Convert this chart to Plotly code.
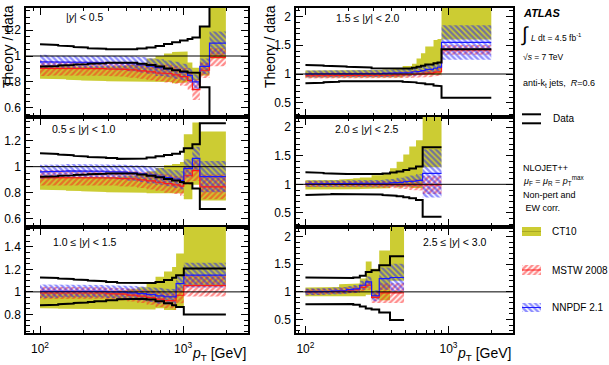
import plotly.graph_objects as go

W, H = 609, 365
FONT = "Liberation Sans, Arial, Helvetica, sans-serif"
YELLOW = "#cccc33"
RED = "#ff1a1a"
BLUE = "#1a1aff"

# ---------------- data: theory / data ratios, per rapidity bin ----------------
# |y| < 0.5
Y05_EDGES = [100, 116, 134, 152, 172, 194, 216, 240, 290, 346, 408, 478, 556, 642, 736, 838, 952, 1076, 1162, 1310, 1530, 1992]
Y05_DATA_UP = [1.090, 1.085, 1.080, 1.075, 1.070, 1.065, 1.060, 1.056, 1.053, 1.052, 1.053, 1.058, 1.066, 1.078, 1.092, 1.106, 1.120, 1.132, 1.142, 1.227, 1.900]
Y05_DATA_DN = [0.918, 0.922, 0.926, 0.930, 0.934, 0.937, 0.940, 0.944, 0.947, 0.949, 0.947, 0.940, 0.930, 0.918, 0.904, 0.890, 0.880, 0.873, 0.870, 0.758, 0.400]
Y05_CT10 = [0.875, 0.872, 0.870, 0.868, 0.866, 0.866, 0.865, 0.864, 0.863, 0.865, 0.867, 0.875, 0.890, 0.900, 0.910, 0.910, 0.915, 0.880, 0.860, 1.040, 1.300]
Y05_CT10_ERR = [0.050, 0.050, 0.050, 0.052, 0.053, 0.055, 0.055, 0.057, 0.058, 0.060, 0.065, 0.070, 0.090, 0.100, 0.110, 0.120, 0.120, 0.070, 0.050, 0.190, 0.320]
Y05_MSTW = [0.905, 0.905, 0.903, 0.905, 0.907, 0.905, 0.905, 0.903, 0.900, 0.897, 0.893, 0.885, 0.878, 0.870, 0.865, 0.855, 0.840, 0.810, 0.740, 0.890, 0.990]
Y05_MSTW_ERR = [0.060, 0.055, 0.055, 0.055, 0.055, 0.055, 0.055, 0.055, 0.055, 0.057, 0.060, 0.060, 0.065, 0.065, 0.070, 0.070, 0.070, 0.070, 0.080, 0.060, 0.070]
Y05_NNPDF = [0.955, 0.952, 0.950, 0.952, 0.955, 0.952, 0.950, 0.950, 0.948, 0.945, 0.940, 0.932, 0.922, 0.910, 0.900, 0.890, 0.875, 0.850, 0.800, 0.920, 1.100]
Y05_NNPDF_ERR = [0.055, 0.050, 0.050, 0.050, 0.050, 0.050, 0.050, 0.050, 0.052, 0.055, 0.058, 0.060, 0.060, 0.065, 0.065, 0.065, 0.065, 0.060, 0.060, 0.060, 0.090]

# 0.5 <= |y| < 1.0
Y10_EDGES = [100, 116, 134, 152, 172, 194, 216, 240, 290, 346, 408, 478, 556, 642, 736, 838, 952, 1012, 1162, 1310, 1992]
Y10_DATA_UP = [1.103, 1.098, 1.093, 1.088, 1.083, 1.079, 1.075, 1.071, 1.066, 1.060, 1.058, 1.062, 1.070, 1.080, 1.090, 1.100, 1.115, 1.141, 1.172, 1.333]
Y10_DATA_DN = [0.923, 0.927, 0.930, 0.933, 0.936, 0.939, 0.942, 0.945, 0.948, 0.950, 0.948, 0.940, 0.930, 0.918, 0.905, 0.893, 0.882, 0.872, 0.833, 0.674]
Y10_CT10 = [0.872, 0.870, 0.868, 0.866, 0.865, 0.864, 0.863, 0.862, 0.862, 0.864, 0.866, 0.870, 0.880, 0.890, 0.900, 0.905, 0.915, 1.000, 1.100, 1.005]
Y10_CT10_ERR = [0.050, 0.050, 0.050, 0.052, 0.053, 0.054, 0.055, 0.056, 0.058, 0.060, 0.064, 0.070, 0.085, 0.100, 0.110, 0.115, 0.120, 0.250, 0.240, 0.265]
Y10_MSTW = [0.915, 0.915, 0.915, 0.917, 0.918, 0.918, 0.917, 0.915, 0.913, 0.910, 0.905, 0.898, 0.890, 0.880, 0.870, 0.860, 0.850, 0.930, 0.970, 0.845]
Y10_MSTW_ERR = [0.060, 0.058, 0.058, 0.058, 0.058, 0.058, 0.058, 0.058, 0.058, 0.060, 0.060, 0.062, 0.065, 0.065, 0.070, 0.070, 0.075, 0.070, 0.080, 0.095]
Y10_NNPDF = [0.960, 0.962, 0.965, 0.968, 0.968, 0.966, 0.965, 0.965, 0.962, 0.958, 0.952, 0.945, 0.935, 0.925, 0.915, 0.905, 0.895, 0.987, 1.064, 0.923]
Y10_NNPDF_ERR = [0.055, 0.052, 0.052, 0.052, 0.052, 0.052, 0.052, 0.053, 0.055, 0.057, 0.060, 0.062, 0.065, 0.065, 0.065, 0.068, 0.070, 0.070, 0.090, 0.120]

# 1.0 <= |y| < 1.5
Y15_EDGES = [100, 116, 134, 152, 172, 194, 216, 240, 290, 346, 408, 478, 556, 642, 736, 838, 894, 1012, 1992]
Y15_DATA_UP = [1.127, 1.123, 1.118, 1.114, 1.110, 1.105, 1.100, 1.094, 1.087, 1.080, 1.075, 1.074, 1.078, 1.088, 1.105, 1.125, 1.148, 1.207]
Y15_DATA_DN = [0.881, 0.886, 0.891, 0.896, 0.901, 0.906, 0.911, 0.918, 0.926, 0.934, 0.940, 0.940, 0.932, 0.918, 0.900, 0.882, 0.867, 0.800]
Y15_CT10 = [0.925, 0.922, 0.920, 0.918, 0.918, 0.918, 0.918, 0.920, 0.922, 0.928, 0.935, 0.945, 0.965, 0.995, 1.010, 1.030, 1.100, 1.450]
Y15_CT10_ERR = [0.070, 0.070, 0.070, 0.070, 0.070, 0.070, 0.072, 0.075, 0.078, 0.082, 0.088, 0.095, 0.120, 0.140, 0.170, 0.190, 0.240, 0.400]
Y15_MSTW = [0.990, 0.990, 0.992, 0.993, 0.993, 0.993, 0.992, 0.990, 0.985, 0.980, 0.972, 0.962, 0.950, 0.935, 0.925, 0.920, 0.970, 1.055]
Y15_MSTW_ERR = [0.055, 0.052, 0.050, 0.050, 0.050, 0.050, 0.050, 0.050, 0.052, 0.055, 0.058, 0.060, 0.065, 0.070, 0.070, 0.075, 0.070, 0.095]
Y15_NNPDF = [1.005, 1.005, 1.008, 1.010, 1.010, 1.010, 1.008, 1.005, 1.002, 0.998, 0.992, 0.985, 0.975, 0.965, 0.958, 0.955, 1.074, 1.148]
Y15_NNPDF_ERR = [0.060, 0.058, 0.056, 0.055, 0.055, 0.055, 0.055, 0.055, 0.056, 0.058, 0.060, 0.062, 0.065, 0.070, 0.070, 0.070, 0.070, 0.110]

# 1.5 <= |y| < 2.0
Y20_EDGES = [100, 116, 134, 152, 172, 194, 216, 240, 290, 346, 408, 478, 556, 598, 642, 688, 786, 838, 894, 1992]
Y20_DATA_UP = [1.157, 1.150, 1.143, 1.137, 1.131, 1.125, 1.119, 1.112, 1.100, 1.090, 1.088, 1.095, 1.110, 1.125, 1.145, 1.165, 1.185, 1.200, 1.430]
Y20_DATA_DN = [0.837, 0.848, 0.858, 0.866, 0.872, 0.876, 0.879, 0.882, 0.884, 0.882, 0.876, 0.866, 0.855, 0.845, 0.835, 0.820, 0.800, 0.790, 0.587]
Y20_CT10 = [1.000, 1.000, 0.998, 0.998, 0.998, 0.998, 1.000, 1.000, 1.005, 1.010, 1.020, 1.050, 1.080, 1.130, 1.170, 1.230, 1.290, 1.300, 2.000]
Y20_CT10_ERR = [0.060, 0.060, 0.060, 0.060, 0.060, 0.060, 0.060, 0.062, 0.065, 0.070, 0.075, 0.090, 0.100, 0.140, 0.190, 0.250, 0.300, 0.310, 0.400]
Y20_MSTW = [0.970, 0.968, 0.968, 0.967, 0.967, 0.968, 0.970, 0.972, 0.975, 0.978, 0.982, 0.988, 0.995, 1.000, 1.005, 1.015, 1.030, 1.040, 1.420]
Y20_MSTW_ERR = [0.050, 0.050, 0.050, 0.050, 0.050, 0.050, 0.050, 0.050, 0.050, 0.052, 0.055, 0.058, 0.060, 0.062, 0.065, 0.068, 0.070, 0.070, 0.085]
Y20_NNPDF = [1.000, 1.000, 0.998, 0.998, 1.000, 1.000, 1.002, 1.005, 1.008, 1.012, 1.018, 1.025, 1.035, 1.045, 1.060, 1.080, 1.100, 1.120, 1.550]
Y20_NNPDF_ERR = [0.060, 0.060, 0.060, 0.060, 0.060, 0.060, 0.060, 0.060, 0.060, 0.062, 0.065, 0.068, 0.070, 0.072, 0.075, 0.078, 0.080, 0.080, 0.300]

# 2.0 <= |y| < 2.5
Y25_EDGES = [100, 116, 134, 152, 172, 194, 216, 240, 290, 346, 390, 434, 483, 532, 593, 660, 894]
Y25_DATA_UP = [1.210, 1.200, 1.192, 1.186, 1.181, 1.178, 1.176, 1.175, 1.180, 1.190, 1.205, 1.225, 1.250, 1.275, 1.310, 1.645]
Y25_DATA_DN = [0.814, 0.820, 0.826, 0.830, 0.831, 0.830, 0.829, 0.827, 0.822, 0.812, 0.800, 0.790, 0.775, 0.757, 0.727, 0.436]
Y25_CT10 = [0.990, 0.990, 0.992, 0.995, 1.000, 1.005, 1.010, 1.020, 1.040, 1.060, 1.120, 1.170, 1.240, 1.300, 1.350, 1.900]
Y25_CT10_ERR = [0.080, 0.080, 0.080, 0.080, 0.085, 0.090, 0.095, 0.100, 0.120, 0.130, 0.160, 0.225, 0.280, 0.360, 0.420, 0.600]
Y25_MSTW = [1.005, 1.005, 1.002, 1.000, 0.998, 0.998, 0.998, 1.000, 1.000, 1.000, 0.998, 0.995, 0.992, 0.990, 0.990, 0.990]
Y25_MSTW_ERR = [0.050, 0.050, 0.050, 0.050, 0.050, 0.050, 0.050, 0.052, 0.055, 0.060, 0.065, 0.070, 0.080, 0.090, 0.100, 0.160]
Y25_NNPDF = [1.010, 1.010, 1.012, 1.012, 1.012, 1.010, 1.010, 1.012, 1.015, 1.020, 1.025, 1.035, 1.045, 1.055, 1.070, 1.190]
Y25_NNPDF_ERR = [0.055, 0.055, 0.055, 0.055, 0.055, 0.055, 0.055, 0.058, 0.060, 0.065, 0.070, 0.080, 0.090, 0.100, 0.110, 0.420]

# 2.5 <= |y| < 3.0
Y30_EDGES = [100, 116, 134, 152, 172, 194, 216, 240, 264, 290, 328, 390, 489]
Y30_DATA_UP = [1.260, 1.255, 1.250, 1.248, 1.248, 1.252, 1.262, 1.290, 1.360, 1.390, 1.480, 1.645]
Y30_DATA_DN = [0.777, 0.782, 0.787, 0.790, 0.788, 0.780, 0.765, 0.735, 0.700, 0.680, 0.627, 0.490]
Y30_CT10 = [1.000, 1.000, 1.000, 1.005, 1.030, 1.035, 1.040, 1.080, 1.250, 1.150, 1.300, 1.800]
Y30_CT10_ERR = [0.080, 0.080, 0.080, 0.085, 0.110, 0.110, 0.110, 0.160, 0.300, 0.270, 0.450, 0.600]
Y30_MSTW = [1.000, 1.000, 1.005, 1.010, 1.020, 1.030, 1.040, 1.080, 1.120, 0.900, 0.980, 0.980]
Y30_MSTW_ERR = [0.050, 0.050, 0.050, 0.052, 0.055, 0.058, 0.060, 0.070, 0.080, 0.100, 0.170, 0.180]
Y30_NNPDF = [1.000, 1.005, 1.010, 1.015, 1.025, 1.040, 1.055, 1.120, 1.180, 0.930, 1.240, 1.260]
Y30_NNPDF_ERR = [0.060, 0.060, 0.060, 0.060, 0.062, 0.065, 0.070, 0.080, 0.100, 0.100, 0.200, 0.250]

PANEL_LABELS = ["|<i>y</i>| < 0.5", "0.5 \u2264 |<i>y</i>| < 1.0", "1.0 \u2264 |<i>y</i>| < 1.5",
                "1.5 \u2264 |<i>y</i>| < 2.0", "2.0 \u2264 |<i>y</i>| < 2.5", "2.5 \u2264 |<i>y</i>| < 3.0"]
X_TICKS = [100, 1000]
X_TICKTEXT = ["10<sup>2</sup>", "10<sup>3</sup>"]
X_MINOR = [80, 90, 200, 300, 400, 500, 600, 700, 800, 900, 2000]

PANELS = [
    (Y05_EDGES, Y05_DATA_UP, Y05_DATA_DN, Y05_CT10, Y05_CT10_ERR, Y05_MSTW, Y05_MSTW_ERR, Y05_NNPDF, Y05_NNPDF_ERR),
    (Y10_EDGES, Y10_DATA_UP, Y10_DATA_DN, Y10_CT10, Y10_CT10_ERR, Y10_MSTW, Y10_MSTW_ERR, Y10_NNPDF, Y10_NNPDF_ERR),
    (Y15_EDGES, Y15_DATA_UP, Y15_DATA_DN, Y15_CT10, Y15_CT10_ERR, Y15_MSTW, Y15_MSTW_ERR, Y15_NNPDF, Y15_NNPDF_ERR),
    (Y20_EDGES, Y20_DATA_UP, Y20_DATA_DN, Y20_CT10, Y20_CT10_ERR, Y20_MSTW, Y20_MSTW_ERR, Y20_NNPDF, Y20_NNPDF_ERR),
    (Y25_EDGES, Y25_DATA_UP, Y25_DATA_DN, Y25_CT10, Y25_CT10_ERR, Y25_MSTW, Y25_MSTW_ERR, Y25_NNPDF, Y25_NNPDF_ERR),
    (Y30_EDGES, Y30_DATA_UP, Y30_DATA_DN, Y30_CT10, Y30_CT10_ERR, Y30_MSTW, Y30_MSTW_ERR, Y30_NNPDF, Y30_NNPDF_ERR),
]

# ---------------- layout geometry (pixels) ----------------
COL_X = [(26, 248), (296, 512.7)]
COL_RANGE = [(1.902, 3.454), (1.934, 3.449)]
ROW_Y = [(7.5, 117), (117, 227), (227, 333.3)]
Y_RANGE = [(0.529, 1.3745), (0.536, 1.382), (0.633, 1.575),
           (0.252, 2.157), (0.255, 2.175), (0.25, 2.174)]
Y_DTICK = [0.2, 0.2, 0.2, 0.5, 0.5, 0.5]
Y_MINOR = [0.05, 0.05, 0.05, 0.1, 0.1, 0.1]
LABEL_POS = [(84, 17.5), (84, 129), (85, 242), (368, 18), (367, 129), (455, 242)]

HATCH_SIZE = 4
HATCH_SOLID = 0.6


def px(x):
    return x / W


def py(y):
    return 1 - y / H


def step_xy(edges, vals):
    xs, ys = [], []
    for i, v in enumerate(vals):
        xs += [edges[i], edges[i + 1]]
        ys += [v, v]
    return xs, ys


def band_xy(edges, c, e):
    xs, ys = [], []
    for i in range(len(c)):
        xs += [edges[i], edges[i + 1]]
        ys += [c[i] + e[i]] * 2
    for i in reversed(range(len(c))):
        xs += [edges[i + 1], edges[i]]
        ys += [c[i] - e[i]] * 2
    xs.append(xs[0])
    ys.append(ys[0])
    return xs, ys


def hatch(shape, color):
    return dict(shape=shape, fgcolor=color, bgcolor="rgba(0,0,0,0)",
                size=HATCH_SIZE, solidity=HATCH_SOLID)


fig = go.Figure()
layout = dict(width=W, height=H, margin=dict(l=0, r=0, t=0, b=0),
              paper_bgcolor="white", plot_bgcolor="rgba(0,0,0,0)",
              showlegend=False, font=dict(family=FONT, color="black"))
shapes = []
annotations = []

for k, (edges, dup, ddn, ct, cte, ms, mse, nn, nne) in enumerate(PANELS):
    n = k + 1
    col, row = k // 3, k % 3
    xn = "x" if n == 1 else f"x{n}"
    yn = "y" if n == 1 else f"y{n}"
    common = dict(xaxis=xn, yaxis=yn, hoverinfo="skip", showlegend=False)

    bx, by = band_xy(edges, ct, cte)
    fig.add_trace(go.Scatter(x=bx, y=by, mode="lines", fill="toself", fillcolor=YELLOW,
                             line=dict(width=0), **common))
    bx, by = band_xy(edges, ms, mse)
    fig.add_trace(go.Scatter(x=bx, y=by, mode="lines", fill="toself", fillcolor="rgba(0,0,0,0)",
                             fillpattern=hatch("/", RED), line=dict(width=0), **common))
    bx, by = band_xy(edges, nn, nne)
    fig.add_trace(go.Scatter(x=bx, y=by, mode="lines", fill="toself", fillcolor="rgba(0,0,0,0)",
                             fillpattern=hatch("\\", BLUE), line=dict(width=0), **common))
    sx, sy = step_xy(edges, ms)
    fig.add_trace(go.Scatter(x=sx, y=sy, mode="lines", line=dict(color=RED, width=1.2), **common))
    sx, sy = step_xy(edges, nn)
    fig.add_trace(go.Scatter(x=sx, y=sy, mode="lines", line=dict(color=BLUE, width=1.2), **common))
    for dv in (dup, ddn):
        sx, sy = step_xy(edges, dv)
        fig.add_trace(go.Scatter(x=sx, y=sy, mode="lines", line=dict(color="black", width=2), **common))

    x0, x1 = COL_X[col]
    y0, y1 = ROW_Y[row]
    xkey = "xaxis" if n == 1 else f"xaxis{n}"
    ykey = "yaxis" if n == 1 else f"yaxis{n}"
    layout[xkey] = dict(type="log", domain=[px(x0), px(x1)], range=list(COL_RANGE[col]), anchor=yn,
                        tickmode="array", tickvals=X_TICKS, ticktext=X_TICKTEXT,
                        showticklabels=(row == 2), ticks="inside", ticklen=8, tickwidth=1,
                        tickcolor="black", mirror="allticks", showline=True, linecolor="black",
                        linewidth=1.5, showgrid=False, zeroline=False,
                        minor=dict(tickvals=X_MINOR, ticks="inside", ticklen=4, tickcolor="black",
                                   showgrid=False),
                        tickfont=dict(size=12, family=FONT, color="black"), ticklabelstandoff=4)
    layout[ykey] = dict(domain=[py(y1), py(y0)], range=list(Y_RANGE[k]), anchor=xn,
                        tick0=0, dtick=Y_DTICK[k], ticks="inside", ticklen=7, tickwidth=1,
                        tickcolor="black", mirror="allticks", showline=True, linecolor="black",
                        linewidth=1.5, showgrid=False, zeroline=False,
                        minor=dict(tick0=0, dtick=Y_MINOR[k], ticks="inside", ticklen=4,
                                   tickcolor="black", showgrid=False),
                        tickfont=dict(size=12, family=FONT, color="black"), ticklabelstandoff=1)
    shapes.append(dict(type="line", xref=f"{xn} domain", yref=yn, x0=0, x1=1, y0=1, y1=1,
                       line=dict(color="black", width=1), layer="above"))
    lx, ly = LABEL_POS[k]
    annotations.append(dict(text=PANEL_LABELS[k], x=px(lx), y=py(ly), xref="paper", yref="paper",
                            showarrow=False, xanchor="center", yanchor="middle",
                            font=dict(size=10.5, family=FONT, color="black")))

# overlay axis in pixel units for the legend area
layout["xaxis7"] = dict(domain=[0, 1], range=[0, W], visible=False, fixedrange=True, anchor="y7")
layout["yaxis7"] = dict(domain=[0, 1], range=[H, 0], visible=False, fixedrange=True, anchor="x7")
ov = dict(xaxis="x7", yaxis="y7", hoverinfo="skip", showlegend=False)

SW_X0, SW_X1 = 522, 541
# Data symbol
for yy in (114.3, 123.3):
    fig.add_trace(go.Scatter(x=[SW_X0, SW_X1], y=[yy, yy], mode="lines",
                             line=dict(color="black", width=2), **ov))
# CT10 swatch
fig.add_trace(go.Scatter(x=[SW_X0, SW_X1, SW_X1, SW_X0, SW_X0], y=[227, 227, 236, 236, 227],
                         mode="lines", fill="toself", fillcolor=YELLOW, line=dict(width=0), **ov))
fig.add_trace(go.Scatter(x=[SW_X0, SW_X1], y=[231.5, 231.5], mode="lines",
                         line=dict(color="#a9a922", width=1), **ov))
# MSTW swatch
fig.add_trace(go.Scatter(x=[SW_X0, SW_X1, SW_X1, SW_X0, SW_X0], y=[265, 265, 275, 275, 265],
                         mode="lines", fill="toself", fillcolor="rgba(0,0,0,0)",
                         fillpattern=hatch("/", RED), line=dict(width=0), **ov))
fig.add_trace(go.Scatter(x=[SW_X0, SW_X1], y=[270, 270], mode="lines", line=dict(color=RED, width=1), **ov))
# NNPDF swatch
fig.add_trace(go.Scatter(x=[SW_X0, SW_X1, SW_X1, SW_X0, SW_X0], y=[303, 303, 312, 312, 303],
                         mode="lines", fill="toself", fillcolor="rgba(0,0,0,0)",
                         fillpattern=hatch("\\", BLUE), line=dict(width=0), **ov))
fig.add_trace(go.Scatter(x=[SW_X0, SW_X1], y=[307.5, 307.5], mode="lines", line=dict(color=BLUE, width=1), **ov))


def txt(text, x, y, size, xanchor="left", angle=0):
    annotations.append(dict(text=text, x=px(x), y=py(y), xref="paper", yref="paper", showarrow=False,
                            xanchor=xanchor, yanchor="middle", textangle=angle,
                            font=dict(size=size, family=FONT, color="black")))


txt("<b><i>ATLAS</i></b>", 521, 12.5, 11)
txt("\u222b", 519, 35, 20)
txt("<i>L</i> dt = 4.5 fb<sup>-1</sup>", 529, 37, 8.5)
txt("\u221a<i>s</i> = 7 TeV", 521, 57.5, 8.5)
txt("anti-k<sub>t</sub> jets,  <i>R</i>=0.6", 521, 84, 9)
txt("Data", 551, 118.5, 10)
txt("NLOJET++", 521, 168, 9)
txt("<i>\u03bc</i><sub>F</sub> = <i>\u03bc</i><sub>R</sub> = <i>p</i><sub>T</sub><sup>max</sup>", 521, 180, 9)
txt("Non-pert and", 521, 195, 9)
txt(" EW corr.", 521, 207.5, 9)
txt("CT10", 550, 231.5, 10)
txt("MSTW 2008", 550, 270, 10)
txt("NNPDF 2.1", 550, 307.5, 10)
txt("Theory / data", 8, 47, 14, xanchor="center", angle=-90)
txt("Theory / data", 270, 47, 14, xanchor="center", angle=-90)
txt("<i>p</i><sub>T</sub> [GeV]", 248, 354, 14, xanchor="right")
txt("<i>p</i><sub>T</sub> [GeV]", 513, 354, 14, xanchor="right")

layout["shapes"] = shapes
layout["annotations"] = annotations
fig.update_layout(**layout)
fig.write_html("out.html")
